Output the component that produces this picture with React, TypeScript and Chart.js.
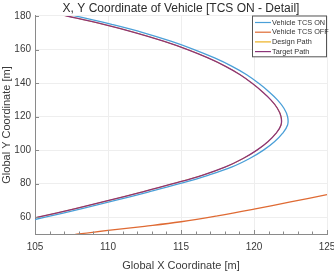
import React, { useEffect, useRef } from "react";
import { Chart, registerables } from "chart.js";

Chart.register(...registerables);

const TITLE = "X, Y Coordinate of Vehicle [TCS ON - Detail]";
const X_LABEL = "Global X Coordinate [m]";
const Y_LABEL = "Global Y Coordinate [m]";

const SERIES_NAMES = ["Vehicle TCS ON", "Vehicle TCS OFF", "Design Path", "Target Path"];
const SERIES_COLORS = ["#4a9fd8", "#df6a33", "#edb120", "#8c3478"];

const X_TICKS = [105, 110, 115, 120, 125];
const Y_TICKS = [60, 80, 100, 120, 140, 160, 180];
const X_MIN = 105;
const X_MAX = 125;
const Y_MIN = 50;
const Y_MAX = 180;

// Vehicle TCS ON (blue)
const tcsOnX = [105.2, 107.8, 110.25, 112.45, 114.3, 115.9, 117.3, 118.5, 119.5, 120.3, 121.0, 121.6, 122.05, 122.3, 122.3, 121.95, 121.4, 120.65, 119.7, 118.5, 116.85, 114.9, 112.75, 110.5, 108.15, 105.7, 103.1];
const tcsOnY = [185, 180, 175, 170, 165, 160, 155, 150, 145, 140, 135, 130, 125, 120, 115, 110, 105, 100, 95, 90, 85, 80, 75, 70, 65, 60, 55];

// Vehicle TCS OFF (orange-red)
const tcsOffX = [107.5, 108.0, 110.0, 112.5, 115.0, 117.5, 120.0, 122.5, 125.0, 125.5];
const tcsOffY = [49.3, 50.0, 52.2, 54.6, 57.3, 60.8, 64.8, 69.1, 73.5, 74.4];

// Design Path (yellow, lies beneath the target path)
const designX = [104.6, 107.2, 109.7, 111.9, 113.8, 115.45, 116.85, 118.05, 119.05, 119.85, 120.55, 121.15, 121.6, 121.85, 121.85, 121.5, 120.95, 120.2, 119.25, 118.05, 116.45, 114.45, 112.3, 110.05, 107.7, 105.2, 102.6];
const designY = [185, 180, 175, 170, 165, 160, 155, 150, 145, 140, 135, 130, 125, 120, 115, 110, 105, 100, 95, 90, 85, 80, 75, 70, 65, 60, 55];

// Target Path (purple)
const targetX = [104.6, 107.2, 109.7, 111.9, 113.8, 115.45, 116.85, 118.05, 119.05, 119.85, 120.55, 121.15, 121.6, 121.85, 121.85, 121.5, 120.95, 120.2, 119.25, 118.05, 116.45, 114.45, 112.3, 110.05, 107.7, 105.2, 102.6];
const targetY = [185, 180, 175, 170, 165, 160, 155, 150, 145, 140, 135, 130, 125, 120, 115, 110, 105, 100, 95, 90, 85, 80, 75, 70, 65, 60, 55];

const toPoints = (xs: number[], ys: number[]) => xs.map((x, i) => ({ x, y: ys[i] }));

const FONT = "'Liberation Sans', Arial, sans-serif";

const axisDecor = {
  id: "axisDecor",
  afterDatasetsDraw(chart: any) {
    const { ctx, chartArea, scales } = chart;
    const xs = scales.x;
    const ys = scales.y;
    ctx.save();
    ctx.strokeStyle = "#8a8a8a";
    ctx.lineWidth = 1;
    ctx.beginPath();
    for (let v = X_MIN; v <= X_MAX; v += 1) {
      const px = Math.round(xs.getPixelForValue(v)) + 0.5;
      const len = v % 5 === 0 ? 4 : 2.5;
      ctx.moveTo(px, chartArea.bottom);
      ctx.lineTo(px, chartArea.bottom - len);
    }
    for (const v of Y_TICKS) {
      const py = Math.round(ys.getPixelForValue(v)) + 0.5;
      ctx.moveTo(chartArea.left, py);
      ctx.lineTo(chartArea.left + 4, py);
    }
    ctx.stroke();
    ctx.restore();
  },
};

const boxLegend = {
  id: "boxLegend",
  afterDraw(chart: any) {
    const { ctx } = chart;
    const left = 252;
    const top = 15.5;
    const width = 74;
    const rowH = 9.7;
    const height = rowH * 4 + 2;
    ctx.save();
    ctx.fillStyle = "#ffffff";
    ctx.fillRect(left, top, width, height);
    ctx.strokeStyle = "#555555";
    ctx.lineWidth = 1;
    ctx.strokeRect(left + 0.5, top + 0.5, width, height);
    ctx.font = `7.3px ${FONT}`;
    ctx.textBaseline = "middle";
    ctx.textAlign = "left";
    [0, 1, 2, 3].forEach((idx, r) => {
      const cy = top + 7 + r * rowH;
      ctx.strokeStyle = SERIES_COLORS[idx];
      ctx.lineWidth = 1.2;
      ctx.beginPath();
      ctx.moveTo(left + 3, cy);
      ctx.lineTo(left + 19, cy);
      ctx.stroke();
      ctx.fillStyle = "#333333";
      ctx.fillText(SERIES_NAMES[idx], left + 20, cy);
    });
    ctx.restore();
  },
};

export default function App() {
  const canvasRef = useRef<HTMLCanvasElement | null>(null);

  useEffect(() => {
    document.body.style.margin = "0";
    const canvas = canvasRef.current;
    if (!canvas) return;
    const datasets = [
      { label: SERIES_NAMES[3], data: toPoints(targetX, targetY), borderColor: SERIES_COLORS[3], borderWidth: 1.3, order: 0 },
      { label: SERIES_NAMES[2], data: toPoints(designX, designY), borderColor: SERIES_COLORS[2], borderWidth: 1.0, order: 1 },
      { label: SERIES_NAMES[0], data: toPoints(tcsOnX, tcsOnY), borderColor: SERIES_COLORS[0], borderWidth: 1.3, order: 2 },
      { label: SERIES_NAMES[1], data: toPoints(tcsOffX, tcsOffY), borderColor: SERIES_COLORS[1], borderWidth: 1.3, order: 3 },
    ].map((d) => ({
      ...d,
      showLine: true,
      pointRadius: 0,
      pointHoverRadius: 0,
      tension: 0.4,
      fill: false,
      backgroundColor: d.borderColor,
    }));

    const chart = new Chart(canvas, {
      type: "scatter",
      data: { datasets },
      options: {
        animation: false,
        responsive: false,
        maintainAspectRatio: false,
        devicePixelRatio: 1,
        layout: { padding: { left: 0, right: 7, top: 0, bottom: 0 } },
        plugins: {
          legend: { display: false },
          tooltip: { enabled: false },
          title: {
            display: true,
            text: TITLE,
            fullSize: false,
            align: "center",
            color: "#2b2b2b",
            font: { family: FONT, size: 12, weight: "normal" },
            padding: { top: 1, bottom: 0.6 },
          },
        },
        scales: {
          x: {
            type: "linear",
            min: X_MIN,
            max: X_MAX,
            afterBuildTicks: (s: any) => {
              s.ticks = X_TICKS.map((v) => ({ value: v }));
            },
            afterFit: (s: any) => {
              s.height = 41;
              s.paddingLeft = 0;
              s.paddingRight = 0;
            },
            grid: { color: "#eeeeee", drawTicks: false, lineWidth: 1 },
            border: { display: true, color: "#8a8a8a", width: 1 },
            ticks: {
              padding: 7,
              color: "#3a3a3a",
              font: { family: FONT, size: 10 },
              maxRotation: 0,
              autoSkip: false,
            },
            title: {
              display: true,
              text: X_LABEL,
              color: "#3a3a3a",
              font: { family: FONT, size: 11 },
              padding: { top: 0, bottom: 2.5 },
            },
          },
          y: {
            type: "linear",
            min: Y_MIN,
            max: Y_MAX,
            afterBuildTicks: (s: any) => {
              s.ticks = Y_TICKS.map((v) => ({ value: v }));
            },
            afterFit: (s: any) => {
              s.width = 35;
              s.paddingTop = 0;
              s.paddingBottom = 0;
            },
            grid: { color: "#eeeeee", drawTicks: false, lineWidth: 1 },
            border: { display: true, color: "#8a8a8a", width: 1 },
            ticks: {
              padding: 4,
              color: "#3a3a3a",
              font: { family: FONT, size: 10 },
              autoSkip: false,
            },
            title: {
              display: true,
              text: Y_LABEL,
              color: "#3a3a3a",
              font: { family: FONT, size: 11 },
              padding: { top: 0.5, bottom: 0 },
            },
          },
        },
      },
      plugins: [axisDecor, boxLegend],
    } as any);

    return () => {
      chart.destroy();
    };
  }, []);

  return (
    <div style={{ width: 334, height: 275 }}>
      <canvas ref={canvasRef} width={334} height={275} style={{ display: "block", width: 334, height: 275 }} />
    </div>
  );
}
